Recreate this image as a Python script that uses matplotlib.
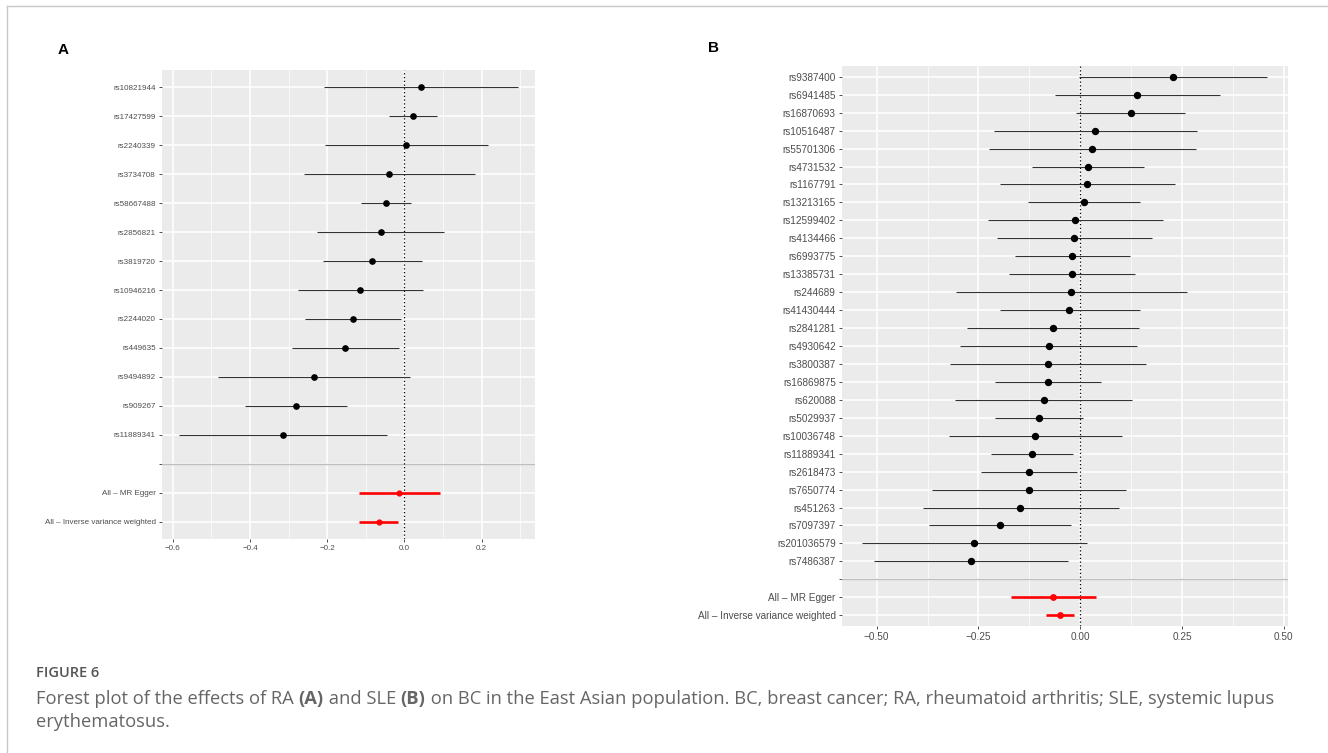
import numpy as np
import matplotlib.pyplot as plt
from matplotlib.ticker import MultipleLocator

# ---- panel A: RA -> BC ----
snps_a = ["rs10821944", "rs17427599", "rs2240339", "rs3734708", "rs58667488",
          "rs2856821", "rs3819720", "rs10946216", "rs2244020", "rs449635",
          "rs9494892", "rs909267", "rs11889341"]
beta_a = [0.042, 0.022, 0.005, -0.040, -0.048, -0.062, -0.084, -0.115, -0.134,
          -0.154, -0.234, -0.281, -0.315]
lo_a = [-0.208, -0.041, -0.206, -0.260, -0.112, -0.226, -0.211, -0.275, -0.257,
        -0.291, -0.482, -0.413, -0.583]
hi_a = [0.293, 0.085, 0.216, 0.183, 0.016, 0.103, 0.045, 0.047, -0.010,
        -0.015, 0.015, -0.149, -0.045]
sum_beta_a = [-0.014, -0.066]
sum_lo_a = [-0.118, -0.117]
sum_hi_a = [0.092, -0.017]

# ---- panel B: SLE -> BC ----
snps_b = ["rs9387400", "rs6941485", "rs16870693", "rs10516487", "rs55701306",
          "rs4731532", "rs1167791", "rs13213165", "rs12599402", "rs4134466",
          "rs6993775", "rs13385731", "rs244689", "rs41430444", "rs2841281",
          "rs4930642", "rs3800387", "rs16869875", "rs620088", "rs5029937",
          "rs10036748", "rs11889341", "rs2618473", "rs7650774", "rs451263",
          "rs7097397", "rs201036579", "rs7486387"]
beta_b = [0.227, 0.140, 0.124, 0.037, 0.029, 0.019, 0.016, 0.008, -0.012, -0.016,
          -0.020, -0.021, -0.023, -0.027, -0.068, -0.078, -0.079, -0.079, -0.090,
          -0.102, -0.111, -0.119, -0.126, -0.126, -0.147, -0.197, -0.260, -0.269]
lo_b = [-0.002, -0.061, -0.010, -0.212, -0.223, -0.119, -0.198, -0.129, -0.227,
        -0.205, -0.160, -0.174, -0.304, -0.198, -0.278, -0.295, -0.319, -0.210,
        -0.307, -0.210, -0.322, -0.219, -0.243, -0.364, -0.387, -0.372, -0.535,
        -0.507]
hi_b = [0.459, 0.342, 0.258, 0.287, 0.284, 0.156, 0.233, 0.146, 0.203, 0.175,
        0.123, 0.135, 0.262, 0.146, 0.143, 0.139, 0.162, 0.051, 0.128, 0.007,
        0.102, -0.018, -0.008, 0.113, 0.094, -0.022, 0.017, -0.031]
sum_beta_b = [-0.067, -0.051]
sum_lo_b = [-0.170, -0.085]
sum_hi_b = [0.038, -0.015]

methods = ["All \u2013 MR Egger", "All \u2013 Inverse variance weighted"]

plt.rcParams['font.family'] = ['Liberation Sans', 'DejaVu Sans']

BG = "#EBEBEB"
W, H = 1328, 753


def forest(ax, snps, beta, lo, hi, sb, slo, shi, xlim, major, minor, fs, ms):
    labels = snps + [""] + methods
    n = len(labels)
    ypos = np.arange(n)[::-1]
    ax.set_facecolor(BG)
    for s in ax.spines.values():
        s.set_visible(False)
    ax.set_xlim(*xlim)
    ax.set_ylim(-0.6, n - 1 + 0.6)
    ax.xaxis.set_major_locator(MultipleLocator(major))
    ax.xaxis.set_minor_locator(MultipleLocator(minor))
    ax.grid(which="major", color="white", lw=1.1, zorder=0)
    ax.grid(which="minor", axis="x", color="white", lw=0.5, zorder=0)
    ax.set_axisbelow(True)
    ax.set_yticks(ypos)
    ax.set_yticklabels(labels)
    ax.tick_params(which="major", length=2.5, width=0.6, color="#333333",
                   labelcolor="#4D4D4D", labelsize=fs, pad=2)
    ax.tick_params(which="minor", length=0)
    # separator line on the blank row
    ax.axhline(ypos[len(snps)], color="#BEBEBE", lw=1.0, zorder=1)
    ax.axvline(0, color="black", lw=0.9, ls=(0, (1, 2)), zorder=2)
    ys = ypos[:len(snps)]
    ax.hlines(ys, lo, hi, color="#333333", lw=0.8, zorder=3)
    ax.plot(beta, ys, "o", color="black", ms=ms, zorder=4)
    ys2 = ypos[len(snps) + 1:]
    ax.hlines(ys2, slo, shi, color="#FF0000", lw=1.9, zorder=3)
    ax.plot(sb, ys2, "o", color="#FF0000", ms=ms * 0.9, zorder=4)


fig = plt.figure(figsize=(W / 100, H / 100), dpi=100)

ax_a = fig.add_axes([162 / W, 1 - 539 / H, 373 / W, 469 / H])
forest(ax_a, snps_a, beta_a, lo_a, hi_a, sum_beta_a, sum_lo_a, sum_hi_a,
       (-0.628, 0.338), 0.2, 0.1, 5.8, 3.8)

ax_b = fig.add_axes([842 / W, 1 - 626 / H, 446 / W, 560 / H])
forest(ax_b, snps_b, beta_b, lo_b, hi_b, sum_beta_b, sum_lo_b, sum_hi_b,
       (-0.585, 0.51), 0.25, 0.125, 7.2, 4.3)
ax_b.xaxis.set_major_formatter(plt.FuncFormatter(lambda v, p: f"{v:.2f}".replace("-", "\u2212")))

fig.text(58 / W, 1 - 50 / H, "A", fontsize=11, fontweight="bold", va="center")
fig.text(708 / W, 1 - 48 / H, "B", fontsize=11, fontweight="bold", va="center")

# caption
cap_font = ['Open Sans', 'DejaVu Sans']
cap_col = "#666666"
cap_size = 13.2
fig.text(36 / W, 1 - 673 / H, "FIGURE 6", fontsize=10.5, color="#555555",
         family=cap_font, fontweight="semibold", va="center")

line1 = [("Forest plot of the effects of RA ", "normal"), ("(A)", "bold"),
         (" and SLE ", "normal"), ("(B)", "bold"),
         (" on BC in the East Asian population. BC, breast cancer; RA, rheumatoid arthritis; SLE, systemic lupus", "normal")]
fig.canvas.draw()
renderer = fig.canvas.get_renderer()
x = 36
for txt, wt in line1:
    t = fig.text(x / W, 1 - 699 / H, txt, fontsize=cap_size, color=cap_col,
                 family=cap_font, fontweight=wt, va="center")
    x += t.get_window_extent(renderer).width
fig.text(36 / W, 1 - 722 / H, "erythematosus.", fontsize=cap_size, color=cap_col,
         family=cap_font, va="center")

# page frame (left and top rules)
fig.add_artist(plt.Line2D([6.5 / W, 6.5 / W], [0, 1 - 6 / H], color="#C8C8C8", lw=1))
fig.add_artist(plt.Line2D([6.5 / W, 1], [1 - 6 / H, 1 - 6 / H], color="#C8C8C8", lw=1))

fig.savefig("out.png", dpi=100)
